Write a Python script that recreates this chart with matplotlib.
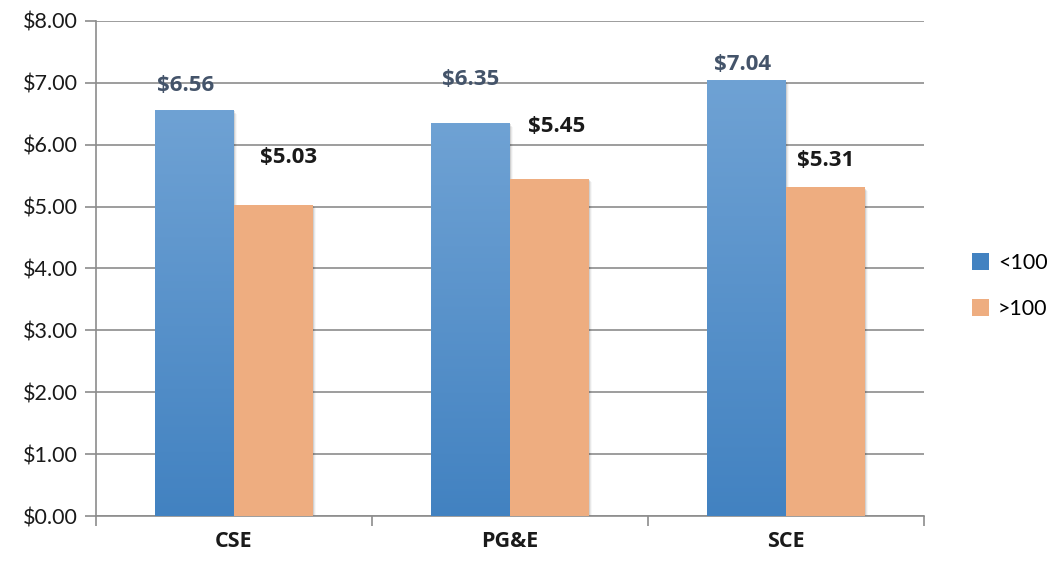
import matplotlib.pyplot as plt
import numpy as np
from matplotlib.colors import LinearSegmentedColormap
from matplotlib.patches import Patch

plt.rcParams['font.family'] = ['Lato', 'DejaVu Sans']
BOLD_FAM = ['Open Sans', 'DejaVu Sans']

categories = ['CSE', 'PG&E', 'SCE']
under_100 = [6.56, 6.35, 7.04]
over_100 = [5.03, 5.45, 5.31]
series_names = ['<100', '>100']

# hand-placed data labels (offsets from bar top-centre, data units)
lab_dx_b = [-0.033, 0.0, -0.014]
lab_dy_b = [0.40, 0.70, 0.25]
lab_dx_o = [0.054, 0.025, 0.0]
lab_dy_o = [0.77, 0.84, 0.44]

blue_top = '#6FA2D4'
blue_bot = '#4282C1'
orange = '#EEAD80'
grid_col = '#8C8C8C'

fig = plt.figure(figsize=(10.47, 5.61), dpi=100)
ax = fig.add_axes([0.0917, 0.0802, 0.7908, 0.8824])

x = np.arange(len(categories))
w = 0.286

bars_b = ax.bar(x - w / 2, under_100, w, color=blue_bot, zorder=3)
bars_o = ax.bar(x + w / 2, over_100, w, color=orange, zorder=3)

# soft shadows
for b in list(bars_b) + list(bars_o):
    for k, a in enumerate([0.10, 0.06, 0.03]):
        ax.bar(b.get_x() + w / 2 + 0.004 * (k + 1), b.get_height(), w,
               bottom=-0.02 * (k + 1), color='black', alpha=a, zorder=2, linewidth=0)

# vertical gradient on blue bars
cmap = LinearSegmentedColormap.from_list('bl', [blue_bot, blue_top])
grad = np.linspace(0, 1, 256).reshape(-1, 1)
for b in bars_b:
    x0, h = b.get_x(), b.get_height()
    im = ax.imshow(grad, cmap=cmap, origin='lower', aspect='auto',
                   extent=[x0, x0 + w, 0, h], zorder=3.5)
    im.set_clip_path(b)

for b, v, dx, dy in zip(bars_b, under_100, lab_dx_b, lab_dy_b):
    ax.text(b.get_x() + w / 2 + dx, v + dy, f'${v:.2f}', ha='center', va='center',
            fontsize=16, fontweight='bold', family=BOLD_FAM, color='#44546A', zorder=5)
for b, v, dx, dy in zip(bars_o, over_100, lab_dx_o, lab_dy_o):
    ax.text(b.get_x() + w / 2 + dx, v + dy, f'${v:.2f}', ha='center', va='center',
            fontsize=16, fontweight='bold', family=BOLD_FAM, color='#1A1A1A', zorder=5)

ax.set_xlim(-0.5, 2.5)
ax.set_ylim(0, 8)
ax.set_yticks(np.arange(0, 9, 1))
ax.set_yticklabels([f'${v:.2f}' for v in range(9)], fontsize=15.5, color='#1A1A1A')
ax.set_xticks(x)
ax.set_xticklabels(categories, fontsize=15.5, fontweight='bold', family=BOLD_FAM,
                   color='#1A1A1A')
ax.set_xticks([-0.5, 0.5, 1.5, 2.5], minor=True)
ax.tick_params(axis='x', which='major', length=0, pad=11)
ax.tick_params(axis='x', which='minor', length=7, color=grid_col, width=1.2)
ax.tick_params(axis='y', length=8, color=grid_col, width=1.2, pad=5)

ax.yaxis.grid(True, color=grid_col, linewidth=1.2, zorder=0)
ax.set_axisbelow(True)
for s in ['top', 'right']:
    ax.spines[s].set_visible(False)
for s in ['left', 'bottom']:
    ax.spines[s].set_color(grid_col)
    ax.spines[s].set_linewidth(1.2)

handles = [Patch(facecolor=blue_bot, edgecolor='none'), Patch(facecolor=orange, edgecolor='none')]
fig.legend(handles, series_names, loc='center left', bbox_to_anchor=(0.91, 0.49),
           frameon=False, fontsize=15.5, handlelength=0.8, handleheight=0.8,
           handletextpad=0.4, labelspacing=1.2)

fig.savefig('out.png', dpi=100)
